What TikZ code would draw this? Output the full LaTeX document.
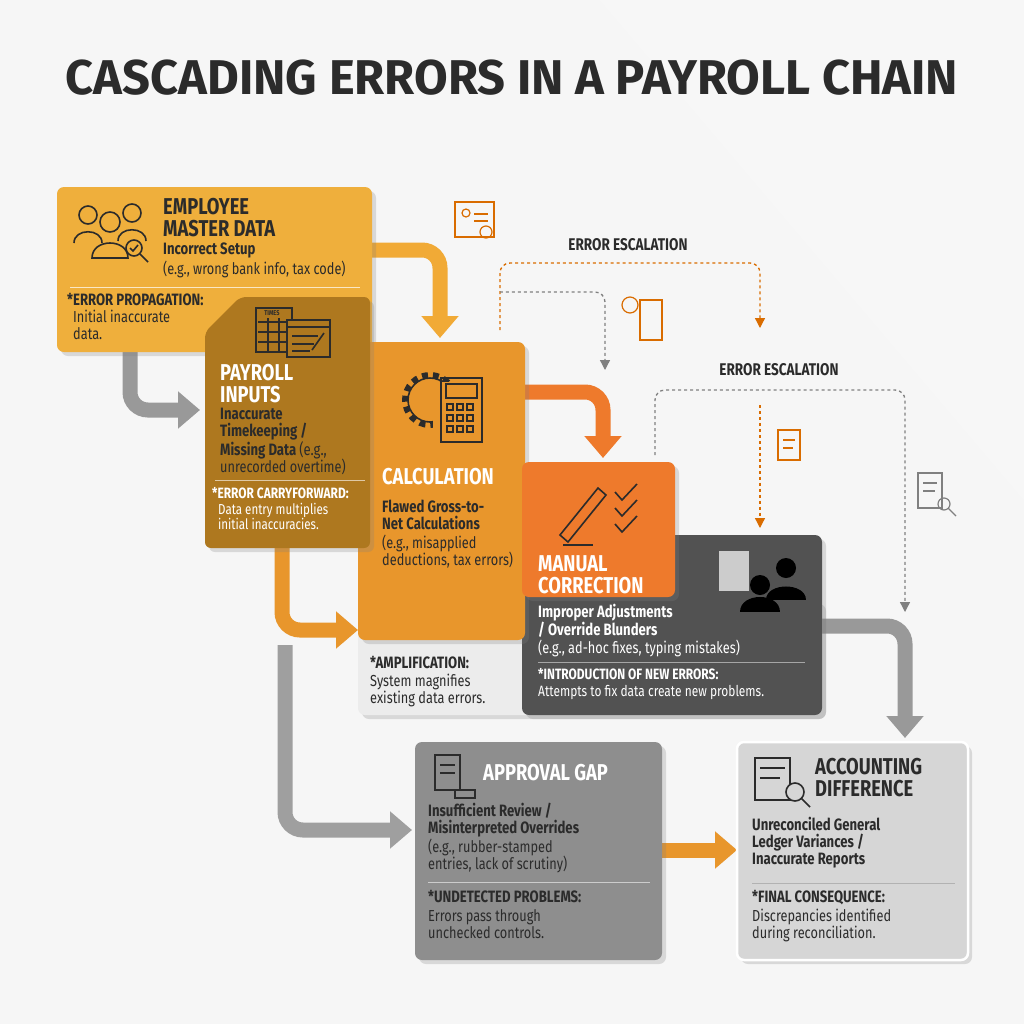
\documentclass[tikz,border=0pt]{standalone}
\usepackage{fontspec}
\setmainfont{Fira Sans}[FakeStretch=0.8]
\newfontfamily\ttlfont{Fira Sans}
\usetikzlibrary{arrows.meta,shadows}
\definecolor{yel}{HTML}{EFAF3C}
\definecolor{brn}{HTML}{AE781F}
\definecolor{org}{HTML}{E8962C}
\definecolor{org2}{HTML}{EE7A2C}
\definecolor{dgr}{HTML}{525252}
\definecolor{mgr}{HTML}{8E8E8E}
\definecolor{lgr}{HTML}{D6D6D6}
\definecolor{ink}{HTML}{2B2B2B}
\begin{document}
\begin{tikzpicture}[x=1bp,y=-1bp,
 box/.style={rounded corners=7,drop shadow={opacity=0.25,shadow xshift=4bp,shadow yshift=-4bp}},
 ttl/.style={font=\bfseries\fontsize{23}{22}\selectfont,align=left,anchor=north west,inner sep=0},
 sub/.style={font=\bfseries\fontsize{16.5}{17}\selectfont,align=left,anchor=north west,inner sep=0},
 txt/.style={font=\fontsize{16}{17}\selectfont,align=left,anchor=north west,inner sep=0},
 fat/.style={line width=15bp,-{Triangle[length=22bp,width=36bp]},rounded corners=18},
 dsh/.style={dashed,line width=1.3bp,-{Triangle[length=10bp,width=10bp]},rounded corners=10},
 ic/.style={line width=1.6bp,ink}]
\fill[white!93!gray] (0,0) rectangle (1024,1024);
\fill[white,opacity=0.2] (600,0)--(1024,0)--(1024,500)--cycle;
\node[font=\ttlfont\bfseries\fontsize{49}{49}\selectfont,ink] (title) at (512,78) {CASCADING ERRORS IN A PAYROLL CHAIN};
\coordinate (a1) at (130,350); \coordinate (a1e) at (200,410);
\draw[fat,gray!80] (a1) |- (a1e);
\coordinate (a2) at (370,250); \coordinate (a2e) at (440,338);
\draw[fat,yel!90!orange] (a2) -| (a2e);
\coordinate (a3) at (520,392); \coordinate (a3e) at (603,458);
\draw[fat,org2] (a3) -| (a3e);
\coordinate (a4) at (282,545); \coordinate (a4e) at (358,630);
\draw[fat,org] (a4) |- (a4e);
\coordinate (a5) at (285,645); \coordinate (a5e) at (412,830);
\draw[fat,gray!75] (a5) |- (a5e);
\coordinate (a6) at (660,850); \coordinate (a6e) at (737,850);
\draw[fat,org,rounded corners=0] (a6) -- (a6e);
\coordinate (a7) at (818,626); \coordinate (a7e) at (905,738);
\draw[fat,gray!80] (a7) -| (a7e);
\coordinate (d1) at (500,330); \coordinate (d1e) at (760,328);
\draw[dsh,orange!85!black] (d1) |- (630,263) -| (d1e);
\coordinate (d2) at (500,292); \coordinate (d2e) at (605,370);
\draw[dsh,gray] (d2) -| (d2e);
\coordinate (d3) at (655,455); \coordinate (d3e) at (905,612);
\draw[dsh,gray] (d3) |- (780,390) -| (d3e);
\coordinate (d4) at (760,405); \coordinate (d4e) at (760,528);
\draw[dsh,orange!85!black] (d4) -- (d4e);
\node[font=\bfseries\fontsize{17}{17}\selectfont,ink] (esc1) at (628,245) {ERROR ESCALATION};
\node[font=\bfseries\fontsize{17}{17}\selectfont,ink] (esc2) at (779,370) {ERROR ESCALATION};
\fill[box,yel] (57,187) rectangle (372,352);
\fill[box,gray!15] (358,600) rectangle (822,715);
\fill[box,dgr] (522,535) rectangle (822,715);
\fill[box,org] (358,342) rectangle (525,640);
\fill[box,org2] (522,462) rectangle (675,597);
\fill[box,brn,rounded corners=6] (240,297) -- (370,297) -- (370,548) -- (205,548) -- (205,332) -- cycle;
\fill[box,mgr] (415,742) rectangle (662,960);
\draw[box,fill=lgr,draw=white,line width=2.5bp] (737,742) rectangle (968,960);
\node[ttl,ink] (t1) at (163,198) {EMPLOYEE\\MASTER DATA};
\node[sub,ink] (s1) at (163,243) {Incorrect Setup};
\node[txt,ink] (x1) at (163,261) {(e.g., wrong bank info, tax code)};
\draw[white!70!yel,line width=0.8] (70,287)--(360,287);
\node[sub,ink] (e1) at (67,293) {*ERROR PROPAGATION:};
\node[txt,ink] (f1) at (73,310) {Initial inaccurate\\data.};
\node[ttl,white] (t2) at (220,364) {PAYROLL\\INPUTS};
\node[sub,ink] (s2) at (220,408) {Inaccurate\\Timekeeping /\\Missing Data \mdseries(e.g.,};
\node[txt,ink] (x2) at (220,459) {unrecorded overtime)};
\draw[white!60!brn,line width=0.8] (215,480)--(365,480);
\node[sub,white,font=\bfseries\fontsize{15}{16}\selectfont] (e2) at (212,487) {*ERROR CARRYFORWARD:};
\node[txt,white,font=\fontsize{14.5}{15}\selectfont] (f2) at (218,503) {Data entry multiplies\\initial inaccuracies.};
\node[ttl,white] (t3) at (382,468) {CALCULATION};
\node[sub,ink] (s3) at (382,500) {Flawed Gross-to-\\Net Calculations};
\node[txt,ink] (x3) at (382,535) {(e.g., misapplied\\deductions, tax errors)};
\node[sub,ink] (e3) at (370,656) {*AMPLIFICATION:};
\node[txt,ink] (f3) at (370,674) {System magnifies\\existing data errors.};
\node[ttl,white] (t4) at (538,555) {MANUAL\\CORRECTION};
\node[sub,white] (s4) at (538,604) {Improper Adjustments\\/ Override Blunders};
\node[txt,white] (x4) at (538,640) {(e.g., ad-hoc fixes, typing mistakes)};
\draw[gray!70,line width=0.8] (538,662)--(805,662);
\node[sub,white,font=\bfseries\fontsize{15}{16}\selectfont] (e4) at (538,668) {*INTRODUCTION OF NEW ERRORS:};
\node[txt,white,font=\fontsize{15}{16}\selectfont] (f4) at (538,685) {Attempts to fix data create new problems.};
\node[ttl,white] (t5) at (483,764) {APPROVAL GAP};
\node[sub,ink] (s5) at (428,803) {Insufficient Review /\\Misinterpreted Overrides};
\node[txt,ink] (x5) at (428,839) {(e.g., rubber-stamped\\entries, lack of scrutiny)};
\draw[gray!40,line width=0.8] (428,882)--(650,882);
\node[sub,ink] (e5) at (428,890) {*UNDETECTED PROBLEMS:};
\node[txt,ink] (f5) at (428,909) {Errors pass through\\unchecked controls.};
\node[ttl,ink] (t6) at (815,758) {ACCOUNTING\\DIFFERENCE};
\node[sub,ink] (s6) at (752,817) {Unreconciled General\\Ledger Variances /\\Inaccurate Reports};
\draw[gray!60,line width=0.8] (752,883)--(955,883);
\node[sub,ink] (e6) at (752,890) {*FINAL CONSEQUENCE:};
\node[txt,ink] (f6) at (752,909) {Discrepancies identified\\during reconciliation.};
\begin{scope}[ic]
 \draw (88,215) circle (9); \draw (74,243) .. controls (74,228) and (102,228) .. (102,243);
 \draw (132,213) circle (9); \draw (118,241) .. controls (118,226) and (146,226) .. (146,241);
 \draw[fill=yel] (110,222) circle (10); \draw[fill=yel] (92,258) .. controls (92,238) and (128,238) .. (128,258) -- cycle;
 \draw[fill=yel] (134,248) circle (8); \draw (140,254) -- (148,262);
 \draw (130,248) -- (133,251) -- (138,245);
 \draw[fill=brn] (256,308) rectangle (292,352); \node[font=\bfseries\fontsize{7}{7}\selectfont,ink] (tm) at (272,313) {TIMES};
 \draw (258,322)--(290,322) (258,332)--(290,332) (258,342)--(290,342) (268,318)--(268,352) (279,318)--(279,352);
 \draw[fill=brn] (287,320) rectangle (330,357); \draw (287,327)--(330,327);
 \draw (292,336)--(318,336) (292,344)--(314,344) (292,351)--(310,351);
 \draw (324,333)--(312,350);
 \draw (430,400) circle (22); \draw[dash pattern=on 6 off 5,line width=6] (430,400) circle (25);
 \fill[org] (433,382) rectangle (490,440);
 \draw (441,378) rectangle (482,442); \draw (446,384) rectangle (477,398);
 \foreach \i in {0,1,2} \foreach \j in {0,1,2} \draw (447+\i*10,404+\j*11) rectangle (453+\i*10,410+\j*11);
 \draw (560,535) -- (598,488) -- (606,495) -- (568,542) -- cycle; \draw (563,545)--(593,545);
 \foreach \k in {0,1,2} \draw (615,492+\k*16) -- (622,500+\k*16) -- (637,484+\k*16);
 \draw[white!80!black,fill=white!80!black] (720,552) rectangle (748,590);
 \fill[black] (760,585) circle (10); \fill[black] (740,612) .. controls (740,592) and (780,592) .. (780,612) -- cycle;
 \fill[black] (786,568) circle (10); \fill[black] (766,600) .. controls (766,582) and (806,582) .. (806,600) -- cycle;
 \draw (435,755) rectangle (460,790); \draw (440,765)--(455,765) (440,773)--(455,773);
 \draw[fill=mgr] (455,790) rectangle (475,798);
 \draw (755,758) rectangle (790,800); \draw (760,768)--(785,768) (760,778)--(780,778);
 \draw[fill=lgr] (795,792) circle (9); \draw (801,798)--(810,807);
\end{scope}
\begin{scope}[line width=1.2bp,orange!85!black]
 \draw (455,202) rectangle (494,237); \draw (466,213) circle (4); \draw (474,214)--(488,214) (474,221)--(488,221);
 \draw (486,232) circle (6);
 \draw (630,305) circle (8); \draw (640,300) rectangle (662,340);
 \draw (778,430) rectangle (800,460); \draw (783,440)--(795,440) (783,448)--(793,448);
\end{scope}
\begin{scope}[line width=1.2bp,gray]
 \draw (918,473) rectangle (942,508); \draw (923,483)--(937,483) (923,491)--(935,491);
 \draw (944,504) circle (6); \draw (948,508)--(956,516);
\end{scope}
\end{tikzpicture}
\end{document}
